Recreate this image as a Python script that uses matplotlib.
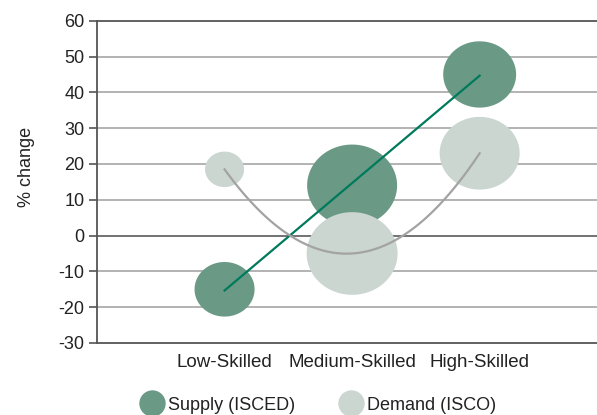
import numpy as np
import matplotlib
matplotlib.use("Agg")
import matplotlib.pyplot as plt
from matplotlib.path import Path
from matplotlib.lines import Line2D

plt.rcParams['font.family'] = ['Liberation Sans', 'DejaVu Sans']
plt.rcParams['font.size'] = 13
plt.rcParams['axes.unicode_minus'] = False

# Data
categories = ['Low-Skilled', 'Medium-Skilled', 'High-Skilled']
supply = [-15, 14, 45]
demand = [18.5, -5, 23]
supply_size = [18.7, 42.0, 27.6]
demand_size = [7.9, 42.9, 33.2]
yticks = [-30, -20, -10, 0, 10, 20, 30, 40, 50, 60]

SUPPLY_COLOR = "#6a9a85"
DEMAND_COLOR = "#cbd6d1"
SUPPLY_LINE = "#007a5c"
DEMAND_LINE = "#a3a3a3"

# bubbles in the original are a little wider than tall
t = np.linspace(0, 2 * np.pi, 80)
bubble = Path(np.column_stack([1.1 * np.cos(t), np.sin(t)]), closed=True)

fig = plt.figure(figsize=(5.97, 4.15), dpi=100)
ax = fig.add_axes([0.1625, 0.1735, 0.8375, 0.7765])

x = np.arange(1, len(categories) + 1)

for yv in yticks:
    if yv == 0:
        ax.axhline(yv, color="#5a5a5a", lw=1.2, zorder=1)
    elif yv not in (-30, 60):
        ax.axhline(yv, color="#a6a6a6", lw=1.2, zorder=1)

ax.scatter(x, supply, s=np.array(supply_size) * 100, color=SUPPLY_COLOR,
           marker=bubble, linewidths=0, zorder=2)
ax.scatter(x, demand, s=np.array(demand_size) * 100, color=DEMAND_COLOR,
           marker=bubble, linewidths=0, zorder=3)

# trendlines: linear for supply, quadratic for demand
xs = np.linspace(1, 3, 100)
ax.plot(xs, np.polyval(np.polyfit(x, supply, 1), xs), color=SUPPLY_LINE,
        lw=1.6, zorder=4)
ax.plot(xs, np.polyval(np.polyfit(x, demand, 2), xs), color=DEMAND_LINE,
        lw=1.6, zorder=4)

ax.set_xlim(0.0, 3.92)
ax.set_ylim(-30, 60)
ax.set_yticks(yticks)
ax.set_xticks(x)
ax.set_xticklabels(categories)
ax.tick_params(axis='x', length=0, pad=8, labelsize=13.5, colors="#222222")
ax.tick_params(axis='y', length=6, width=1.2, color="#555555", pad=3,
               labelsize=13, labelcolor="#222222")

ax.spines['right'].set_visible(False)
for side in ['left', 'top', 'bottom']:
    ax.spines[side].set_color("#555555")
    ax.spines[side].set_linewidth(1.3)

ax.set_ylabel('% change', fontsize=13, color="#222222")
ax.yaxis.set_label_coords(-0.124, 0.545)

handles = [
    Line2D([], [], marker='o', ls='none', color=SUPPLY_COLOR, markersize=19,
           markeredgewidth=0, label='Supply (ISCED)'),
    Line2D([], [], marker='o', ls='none', color=DEMAND_COLOR, markersize=19,
           markeredgewidth=0, label='Demand (ISCO)'),
]
fig.legend(handles=handles, loc='lower center', bbox_to_anchor=(0.532, -0.036),
           ncol=2, frameon=False, fontsize=13, handlelength=1.4,
           handletextpad=0.2, columnspacing=2.4, labelcolor="#222222")

plt.savefig('out.png', dpi=100)
